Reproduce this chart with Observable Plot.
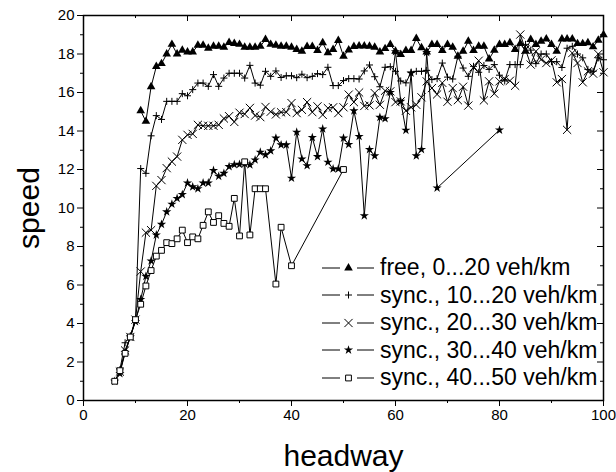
<!DOCTYPE html>
<html><head><meta charset="utf-8">
<script src="https://cdn.jsdelivr.net/npm/d3@7"></script>
<script src="https://cdn.jsdelivr.net/npm/@observablehq/plot@0.6"></script>
<style>
body{margin:0;background:#fff;}
#wrap{position:relative;width:616px;height:472px;font-family:"Liberation Sans",Arial,sans-serif;}
#legend{position:absolute;left:322px;top:254px;}
.row{display:flex;align-items:center;height:27.5px;font-size:23px;color:#000;white-space:nowrap;}
.row svg{margin-right:5px;}
g[aria-label="x-axis label"] text, g[aria-label="y-axis label"] text, g[aria-label="x-axis label"], g[aria-label="y-axis label"]{font-size:30px;}
</style></head><body>
<div id="wrap"><div id="chart"></div><div id="legend"></div></div>
<script>
// ---- data ----
const seriesNames = ["free, 0...20 veh/km","sync., 10...20 veh/km","sync., 20...30 veh/km","sync., 30...40 veh/km","sync., 40...50 veh/km"];
const xMajor = [0,20,40,60,80,100];
const xMinor = [10,30,50,70,90];
const yMajor = [0,2,4,6,8,10,12,14,16,18,20];
const yMinor = [1,3,5,7,9,11,13,15,17,19];

const hwFree = [11,12,13,14,15,16,17,18,19,20,21,22,23,24,25,26,27,28,29,30,31,32,33,34,35,36,37,38,39,40,41,42,43,44,45,46,47,48,49,50,51,52,53,54,55,56,57,58,59,60,61,62,63,64,65,66,67,68,69,70,71,72,73,74,75,76,77,78,79,80,81,82,83,84,85,86,87,88,89,90,91,92,93,94,95,96,97,98,99,100];
const spFree = [15.05,14.5,16.3,17.35,17.5,18.0,18.5,18.0,18.2,18.1,
18.1,18.45,18.45,18.3,18.4,18.4,18.35,18.6,18.55,18.5,
18.35,18.35,18.35,18.4,18.75,18.5,18.45,18.4,18.4,18.35,
18.23,18.14,18.39,18.39,18.18,18.58,18.06,18.23,18.7,17.88,
18.21,18.39,18.42,18.42,18.4,18.35,18.1,18.28,18.49,18.14,
17.97,18.18,18.18,18.8,18.32,18.1,18.49,18.49,18.18,18.49,
18.35,17.88,18.14,18.66,18.18,18.4,18.4,17.74,18.19,18.49,
18.49,18.58,18.23,18.54,18.14,18.75,18.49,18.66,18.78,18.49,
18.14,18.78,18.78,18.78,18.54,18.54,18.58,18.37,18.72,19.0];

const hwSync10 = [7,8,9,10,11,12,13,14,15,16,17,18,19,20,21,22,23,24,25,26,27,28,29,30,31,32,33,34,35,36,37,38,39,40,41,42,43,44,45,46,47,48,49,50,51,52,53,54,55,56,57,58,59,60,61,62,63,64,65,66,67,68,69,70,71,72,73,74,75,76,77,78,79,80,81,82,83,84,85,86,87,88,89,90,91,92,93,94,95,96,97,98,99,100];
const spSync10 = [1.6,3.0,3.35,4.2,12.05,11.8,13.75,14.8,14.6,15.54,15.54,15.54,15.94,15.83,
16.15,16.49,16.49,16.32,16.93,16.32,16.75,17.0,17.0,17.0,
16.75,17.41,16.49,16.38,17.1,16.84,17.12,16.78,16.87,16.87,
16.77,16.95,16.77,16.84,16.98,16.93,17.31,16.36,16.36,16.62,
16.72,16.72,16.7,17.12,17.43,16.82,16.3,17.31,17.34,17.1,
16.6,16.5,17.05,17.1,17.1,17.15,16.67,16.72,17.53,16.8,
16.7,17.88,17.27,16.84,17.36,17.05,17.4,17.2,17.45,16.9,
16.6,17.45,17.45,17.45,18.5,18.2,17.5,18.0,18.0,17.6,
17.6,17.3,18.3,18.4,18.0,17.8,17.2,17.1,17.8,17.7];

const hwSync20 = [7,8,9,10,11,12,13,14,15,16,17,18,19,20,21,22,23,24,25,26,27,28,29,30,31,32,33,34,35,36,37,38,39,40,41,42,43,44,45,46,47,48,49,50,51,52,53,54,55,56,57,58,59,60,61,62,63,64,65,66,67,68,69,70,71,72,73,74,75,76,77,78,79,80,81,82,83,84,85,86,87,88,89,90,91,92,93,94,95,96,97,98,99,100];
const spSync20 = [1.5,2.6,3.3,4.2,6.7,8.72,8.85,11.15,11.45,12.07,12.41,12.67,13.54,13.8,
13.85,14.32,14.27,14.27,14.27,14.32,14.65,14.77,14.47,14.95,
14.88,15.2,14.8,14.72,15.25,15.0,14.86,14.97,14.98,15.45,
14.93,15.1,15.5,14.98,15.28,14.84,15.19,15.23,14.93,15.23,
15.89,15.5,16.0,15.3,15.33,15.97,15.36,16.09,16.06,15.5,
15.54,15.05,15.23,15.36,15.75,16.58,16.23,15.9,16.5,15.52,
16.23,15.6,16.3,15.32,17.3,17.65,15.59,16.58,15.94,16.58,
16.7,16.61,16.35,19.01,18.23,17.45,18.14,17.71,17.53,17.67,
16.53,16.7,14.06,18.05,17.53,16.53,17.1,16.98,18.0,17.05];

const hwSync30 = [6,7,8,9,10,11,12,13,14,15,16,17,18,19,20,21,22,23,24,25,26,27,28,29,30,31,32,33,34,35,36,37,38,39,40,41,42,43,44,45,46,47,48,49,50,51,52,53,54,55,56,57,58,59,60,61,62,63,64,65,66,68,80];
const spSync30 = [1.0,1.4,2.5,3.3,4.1,5.25,6.45,7.25,8.6,9.15,9.8,10.2,10.5,10.7,11.3,
11.1,11.0,11.3,11.3,11.95,11.65,11.8,12.15,12.25,12.27,
12.3,12.24,12.5,12.9,12.76,12.97,13.63,13.28,13.28,11.55,
13.94,12.55,12.2,13.66,12.67,14.11,12.38,12.03,12.03,13.63,
13.3,15.05,13.72,9.6,13.04,12.71,14.71,14.64,16.0,18.12,
15.54,14.04,17.01,12.71,13.04,18.08,11.04,14.05];

const hwSync40 = [6,7,8,9,10,11,12,13,14,15,16,17,18,19,20,21,22,23,24,25,26,27,28,29,30,31,32,33,34,35,37,38,40,50];
const spSync40 = [1.0,1.55,2.45,3.3,4.2,5.0,5.95,6.75,7.5,7.8,8.2,8.15,8.4,8.85,8.2,
8.5,8.4,9.1,9.8,9.25,9.6,9.2,9.05,10.5,8.55,
12.4,8.6,11.0,11.0,11.0,6.05,9.0,7.0,12.0];

// ---- styles per series ----
const styles = [
  {symbol:"triangle", fill:"black", stroke:"none", r:3.2},
  {symbol:"plus", fill:"none", stroke:"black", r:2.4},
  {symbol:"times", fill:"none", stroke:"black", r:3.8},
  {symbol:"star", fill:"black", stroke:"none", r:2.9},
  {symbol:"square2", fill:"white", stroke:"black", r:3.7}
];
const d3sym = {triangle:d3.symbolTriangle, plus:d3.symbolPlus, times:d3.symbolTimes, star:d3.symbolStar, square2:d3.symbolSquare2};

const hws = [hwFree,hwSync10,hwSync20,hwSync30,hwSync40];
const sps = [spFree,spSync10,spSync20,spSync30,spSync40];
const tables = hws.map((hw,k)=>hw.map((h,i)=>({headway:h, speed:sps[k][i]})));

const marks = [];
tables.forEach((t,k)=>{
  const s = styles[k];
  marks.push(Plot.line(t,{x:"headway",y:"speed",stroke:"black",strokeWidth:1}));
  marks.push(Plot.dot(t,{x:"headway",y:"speed",symbol:s.symbol,r:s.r,fill:s.fill,stroke:s.stroke,strokeWidth:1}));
});

const innerH = 472-15-72, innerW = 616-83-13;

const chart = Plot.plot({
  width:616, height:472,
  marginLeft:83, marginRight:13, marginTop:15, marginBottom:72,
  style:{fontFamily:'"Liberation Sans", Arial, sans-serif', fontSize:"15px", color:"black", background:"white"},
  x:{domain:[0,100]},
  y:{domain:[0,20]},
  marks:[
    ...marks,
    Plot.axisX({ticks:xMajor, tickSize:6, tickPadding:3, tickFormat:d=>String(d), label:null}),
    Plot.axisX({ticks:xMinor, tickSize:3, tickFormat:()=>"", label:null}),
    Plot.axisX({ticks:[], label:"headway", labelAnchor:"center", labelOffset:65, labelArrow:"none"}),
    Plot.axisY({ticks:yMajor, tickSize:6, tickPadding:3, tickFormat:d=>String(d), label:null}),
    Plot.axisY({ticks:yMinor, tickSize:3, tickFormat:()=>"", label:null}),
    Plot.axisY({ticks:[], label:"speed", labelAnchor:"center", labelOffset:66, labelArrow:"none"}),
    Plot.tickX(xMajor,{x:d=>d, insetBottom:innerH-6, stroke:"black"}),
    Plot.tickX(xMinor,{x:d=>d, insetBottom:innerH-3, stroke:"black"}),
    Plot.tickY(yMajor,{y:d=>d, insetLeft:innerW-6, stroke:"black"}),
    Plot.tickY(yMinor,{y:d=>d, insetLeft:innerW-3, stroke:"black"}),
    Plot.frame({stroke:"black", strokeWidth:1.5})
  ]
});
document.getElementById("chart").appendChild(chart);

// ---- legend ----
const leg = d3.select("#legend");
seriesNames.forEach((name,k)=>{
  const s = styles[k];
  const row = leg.append("div").attr("class","row");
  const svg = row.append("svg").attr("width",53).attr("height",20);
  svg.append("line").attr("x1",0).attr("x2",18).attr("y1",10).attr("y2",10).attr("stroke","black");
  svg.append("line").attr("x1",35).attr("x2",52).attr("y1",10).attr("y2",10).attr("stroke","black");
  svg.append("path").attr("transform","translate(26.5,10)")
     .attr("d", d3.symbol(d3sym[s.symbol], Math.PI*s.r*s.r)())
     .attr("fill", s.fill).attr("stroke", s.stroke);
  row.append("span").text(name);
});
</script>
</body></html>
